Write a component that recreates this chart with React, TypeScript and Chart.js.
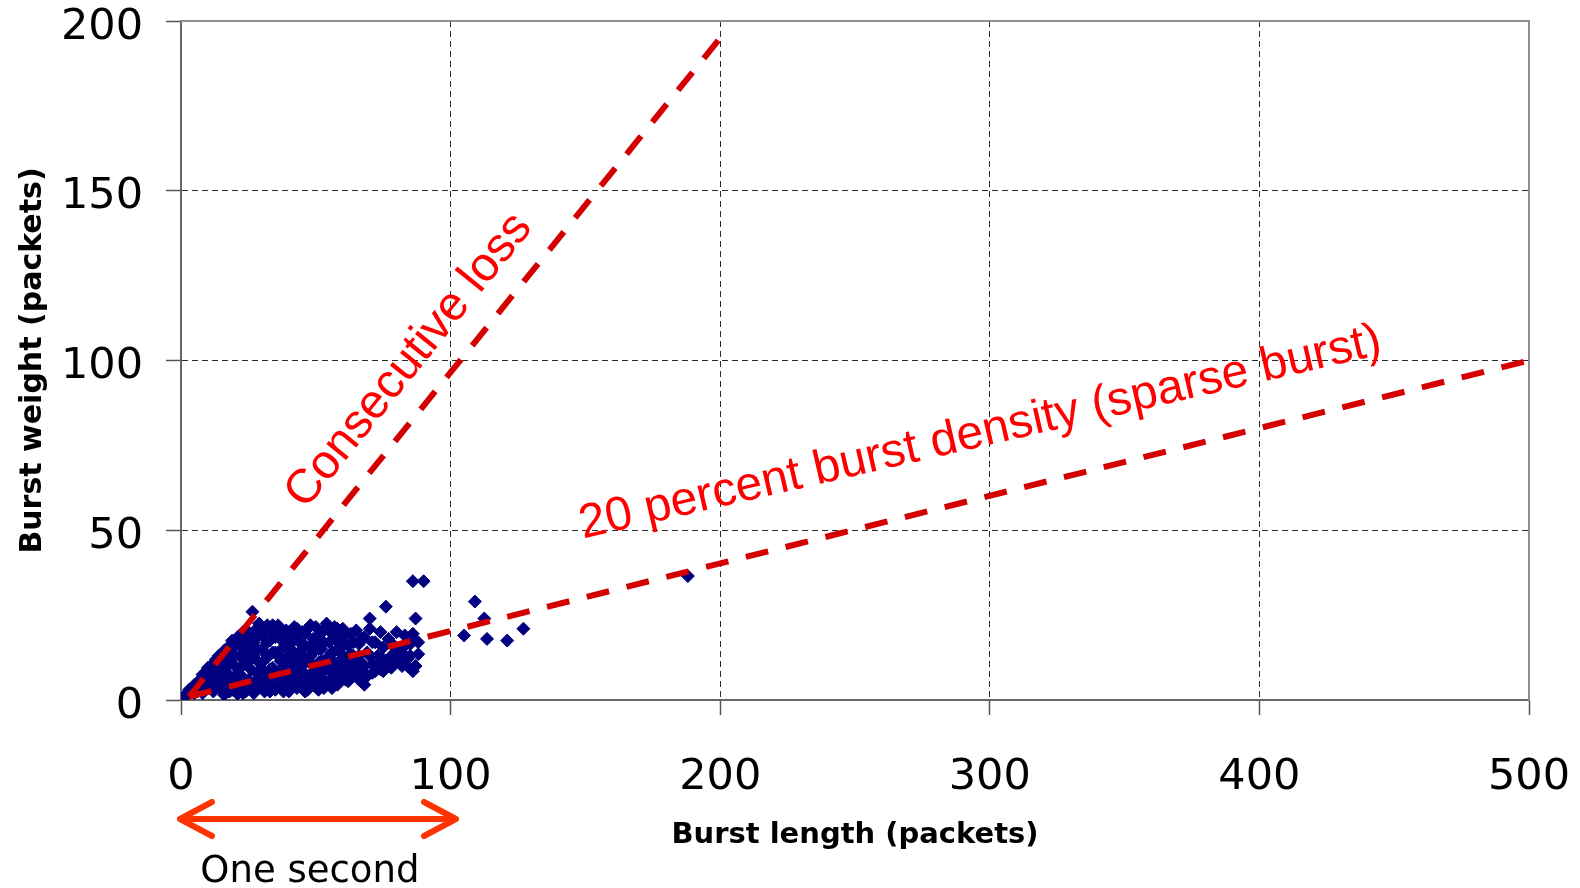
import React, { useEffect, useRef } from 'react';
import { Chart, registerables } from 'chart.js';

Chart.register(...registerables);

// Axis ranges / ticks
const X_MIN = 0;
const X_MAX = 500;
const X_STEP = 100;
const Y_MIN = 0;
const Y_MAX = 200;
const Y_STEP = 50;

const xTitle = 'Burst length (packets)';
const yTitle = 'Burst weight (packets)';

const burstLength = [
  1, 2, 3, 4, 5, 5, 6, 7, 7, 8, 9, 9, 10, 10, 11, 12, 12, 13, 13, 14,
  15, 15, 16, 16, 17, 17, 18, 19, 19, 20, 20, 21, 21, 22, 22, 23, 23, 24, 24, 25,
  25, 26.5, 26, 27, 27, 28, 28, 29, 29, 30, 30, 31, 31, 32, 32, 33, 33, 34, 34, 35,
  35, 36, 36, 37, 37, 38, 38, 39, 39, 40, 40, 41, 41, 42, 42, 43, 43, 44, 44, 45,
  45, 46, 46, 47, 47, 48, 48, 49, 49, 50, 50, 51, 51, 52, 52, 53, 53, 54, 54, 55,
  55, 56, 56, 57, 57, 58, 58, 59, 59, 60, 60, 61, 62, 62, 63, 63, 64, 65, 65, 66,
  66, 67, 67, 68, 69, 69, 70, 70, 71, 72, 72, 73, 74, 74, 75, 76, 76, 77, 78, 78,
  79, 80, 81, 82, 82, 83, 84, 85, 86, 87, 87, 88, 90, 86, 75, 68,
  3, 5, 8, 10, 11, 13, 14, 16, 18, 19, 21, 23,
  6, 8, 9, 11, 12, 14, 14, 15, 16, 17, 18, 18, 19, 20, 20, 21, 22, 22, 23, 23, 24, 24, 25, 25,
  26, 26, 27, 27, 28, 28, 29, 29, 30, 30, 31, 31, 32, 32, 33, 33, 34, 34, 35, 35,
  36, 36, 37, 37, 38, 38, 39, 39, 40, 40, 41, 41, 42, 42, 43, 43, 44, 44, 45, 45,
  46, 46, 47, 47, 48, 48, 49, 49, 50, 50, 51, 51, 52, 52, 53, 53, 54, 54, 55, 55,
  56, 56, 57, 57, 58, 58, 59, 59, 60, 60, 61, 61, 62, 63, 64, 64, 65, 66, 67, 68,
  68, 70, 71, 71, 73, 75, 77, 80, 80, 83, 84, 85, 88, 86,
  105, 109, 112.5, 113.5, 121, 127, 188,
];
const burstWeight = [
  1, 1.5, 2, 3, 3.5, 2, 4.5, 3, 6, 5, 7, 3, 4, 8, 6, 9.5, 2.5, 5, 11, 7.5,
  12.5, 3, 9, 1.5, 5.5, 14, 11, 3, 15.5, 7, 13, 17, 1.8, 9.5, 4.5, 12, 15, 18.5, 2.5, 6,
  20, 26, 9, 13, 17, 21, 3.5, 6.5, 11, 19, 15, 2.5, 8.5, 22, 12.5, 5, 17.5, 20, 9.5, 3,
  14, 22, 7, 18, 11.5, 4.5, 15.5, 20.5, 9, 2.5, 13, 17, 6, 21.5, 10.5, 3.5, 19, 8, 13.5, 20,
  5, 11, 16, 3, 21, 7.5, 13, 18, 10, 4, 21.5, 15, 7, 11.5, 20, 3.5, 17, 9, 22.5, 13,
  5.5, 19.5, 11, 21.5, 7, 15, 4.5, 18, 9.5, 12.5, 21, 6, 16, 10, 19.5, 7.5, 13, 20.5, 9, 16.5,
  6, 11, 8, 18.5, 14, 7, 24, 21, 10.5, 17, 8.5, 13, 20, 9, 15.5, 27.5, 11.5, 18, 13, 9.5,
  16, 20, 11, 14, 10, 19, 12, 16.5, 35, 24, 10, 13.5, 35, 19.5, 8.5, 4.5,
  3, 4.5, 7.5, 9.5, 10, 12, 13, 14.5, 16, 17.5, 18.5, 20,
  2.5, 2, 5.5, 3.5, 7, 4, 10, 6, 11.5, 8, 2.5, 13.5, 6, 10, 16, 4, 13, 7.5, 17, 2, 10.5, 14, 4, 16,
  12, 18.5, 5, 2, 8, 15, 19, 22.5, 4, 11, 14, 21, 6, 17, 9, 2.5, 14, 22, 18.5, 7.5,
  4.5, 13, 21, 9, 17, 2.5, 6.5, 12, 19, 16, 9, 3.5, 14, 6.5, 11, 21, 4, 17, 15, 8.5,
  2.5, 19.5, 6, 12, 16, 22, 5, 14, 8, 18, 11, 3, 6.5, 15, 9, 20.5, 12, 5, 17, 9,
  3.5, 14, 18, 11, 8, 21, 5.5, 14, 16, 8, 11, 19, 5.5, 13.5, 7, 17, 11.5, 13, 18, 10,
  6.5, 13, 17, 8, 10.5, 12, 10, 12, 15, 16, 10, 13, 17, 8.5,
  19, 29, 24, 18, 17.5, 21, 36.5,
];

// Reference lines
const consecutiveLossX = [3, 200];
const consecutiveLossY = [1, 195];
const sparseBurstX = [3, 500];
const sparseBurstY = [1, 100];

const consecutiveLabel = 'Consecutive loss';
const sparseLabel = '20 percent burst density (sparse burst)';
const oneSecondLabel = 'One second';
const oneSecondRange = [0, 102];

const toPoints = (xs: number[], ys: number[]) => xs.map((x, i) => ({ x, y: ys[i] }));

const annotationPlugin = {
  id: 'burstAnnotations',
  beforeDatasetsDraw(chart: any) {
    const { ctx, chartArea } = chart;
    ctx.save();
    ctx.strokeStyle = '#8f8f8f';
    ctx.lineWidth = 2;
    ctx.beginPath();
    ctx.moveTo(chartArea.left, chartArea.top);
    ctx.lineTo(chartArea.right, chartArea.top);
    ctx.lineTo(chartArea.right, chartArea.bottom);
    ctx.stroke();
    ctx.restore();
  },
  afterDatasetsDraw(chart: any) {
    const { ctx, chartArea, scales } = chart;
    const xs = scales.x;
    const ys = scales.y;
    ctx.save();
    ctx.fillStyle = '#ff0000';
    ctx.font = '48px "Liberation Sans", Arial, sans-serif';
    ctx.textAlign = 'center';
    ctx.textBaseline = 'middle';

    const angle1 = Math.atan2(
      ys.getPixelForValue(consecutiveLossY[1]) - ys.getPixelForValue(consecutiveLossY[0]),
      xs.getPixelForValue(consecutiveLossX[1]) - xs.getPixelForValue(consecutiveLossX[0])
    );
    ctx.save();
    ctx.translate(xs.getPixelForValue(84.6), ys.getPixelForValue(99.9));
    ctx.rotate(angle1);
    ctx.fillText(consecutiveLabel, 0, 0);
    ctx.restore();

    ctx.save();
    ctx.translate(xs.getPixelForValue(296.5), ys.getPixelForValue(78.6));
    ctx.rotate((-13 * Math.PI) / 180);
    ctx.fillText(sparseLabel, 0, 0);
    ctx.restore();

    // One second arrow
    const ax1 = xs.getPixelForValue(oneSecondRange[0]) - 1;
    const ax2 = xs.getPixelForValue(oneSecondRange[1]);
    const ay = chartArea.bottom + 119;
    ctx.strokeStyle = '#ff3300';
    ctx.lineWidth = 6;
    ctx.lineCap = 'round';
    ctx.lineJoin = 'round';
    ctx.beginPath();
    ctx.moveTo(ax1, ay);
    ctx.lineTo(ax2, ay);
    ctx.moveTo(ax1 + 32, ay - 17);
    ctx.lineTo(ax1, ay);
    ctx.lineTo(ax1 + 32, ay + 17);
    ctx.moveTo(ax2 - 32, ay - 17);
    ctx.lineTo(ax2, ay);
    ctx.lineTo(ax2 - 32, ay + 17);
    ctx.stroke();

    ctx.fillStyle = '#000000';
    ctx.font = '37px "DejaVu Sans", sans-serif';
    ctx.textAlign = 'center';
    ctx.textBaseline = 'middle';
    ctx.fillText(oneSecondLabel, xs.getPixelForValue(47.8), chartArea.bottom + 172);
    ctx.restore();
  },
};

const gridColor = (ctx: any, max: number) => {
  const v = ctx.tick ? ctx.tick.value : null;
  if (v === 0 || v === max) return 'rgba(0,0,0,0)';
  return '#2a2a2a';
};

export default function App() {
  const canvasRef = useRef<HTMLCanvasElement | null>(null);

  useEffect(() => {
    const canvas = canvasRef.current;
    if (!canvas) return;
    const chart = new Chart(canvas, {
      type: 'scatter',
      data: {
        datasets: [
          {
            label: 'Consecutive loss',
            data: toPoints(consecutiveLossX, consecutiveLossY),
            showLine: true,
            borderColor: '#d40000',
            borderWidth: 6,
            borderDash: [23, 18],
            borderCapStyle: 'butt',
            pointRadius: 0,
            order: 0,
          },
          {
            label: '20 percent',
            data: toPoints(sparseBurstX, sparseBurstY),
            showLine: true,
            borderColor: '#d40000',
            borderWidth: 6,
            borderDash: [23, 18],
            borderCapStyle: 'butt',
            pointRadius: 0,
            order: 0,
          },
          {
            label: 'Bursts',
            data: toPoints(burstLength, burstWeight),
            pointStyle: 'rectRot',
            pointRadius: 6.5,
            pointBackgroundColor: '#000080',
            pointBorderColor: '#000080',
            pointBorderWidth: 1,
            showLine: false,
            order: 1,
          },
        ],
      },
      options: {
        animation: false,
        responsive: false,
        devicePixelRatio: 1,
        layout: { padding: { top: 21, right: 51, bottom: 0, left: 0 } },
        plugins: {
          legend: { display: false },
          tooltip: { enabled: false },
        },
        scales: {
          x: {
            type: 'linear',
            min: X_MIN,
            max: X_MAX,
            afterFit: (s: any) => {
              s.height = 188;
              s.paddingLeft = 0;
              s.paddingRight = 0;
            },
            ticks: {
              stepSize: X_STEP,
              maxRotation: 0,
              autoSkip: false,
              padding: 37,
              color: '#000000',
              font: { family: '"DejaVu Sans", sans-serif', size: 43 },
            },
            grid: {
              color: (c: any) => gridColor(c, X_MAX),
              lineWidth: 1,
              drawTicks: true,
              tickLength: 15,
              tickColor: '#555555',
              tickWidth: 1.5,
              tickBorderDash: [],
            },
            border: { display: true, color: '#666666', width: 2, dash: [6, 4] },
            title: {
              display: true,
              text: xTitle,
              color: '#000000',
              font: { family: '"DejaVu Sans", sans-serif', size: 29, weight: 'bold' },
              padding: { top: 0, bottom: 35 },
            },
          },
          y: {
            type: 'linear',
            min: Y_MIN,
            max: Y_MAX,
            afterFit: (s: any) => {
              s.width = 181;
              s.paddingTop = 0;
              s.paddingBottom = 0;
            },
            ticks: {
              stepSize: Y_STEP,
              padding: 23,
              color: '#000000',
              font: { family: '"DejaVu Sans", sans-serif', size: 43, lineHeight: '13px' },
              callback: (v: any) => ['', String(v)],
            },
            grid: {
              color: (c: any) => gridColor(c, Y_MAX),
              lineWidth: 1,
              drawTicks: true,
              tickLength: 15,
              tickColor: '#555555',
              tickWidth: 1.5,
              tickBorderDash: [],
            },
            border: { display: true, color: '#666666', width: 2, dash: [6, 4] },
            title: {
              display: true,
              text: yTitle,
              color: '#000000',
              font: { family: '"DejaVu Sans", sans-serif', size: 30, weight: 'bold' },
              padding: { top: 15, bottom: 0 },
            },
          },
        },
      },
      plugins: [annotationPlugin],
    } as any);
    return () => chart.destroy();
  }, []);

  return (
    <div style={{ position: 'absolute', left: 0, top: 0, width: 1580, height: 888, background: '#ffffff' }}>
      <canvas ref={canvasRef} width={1580} height={888} style={{ width: 1580, height: 888, display: 'block' }} />
    </div>
  );
}
